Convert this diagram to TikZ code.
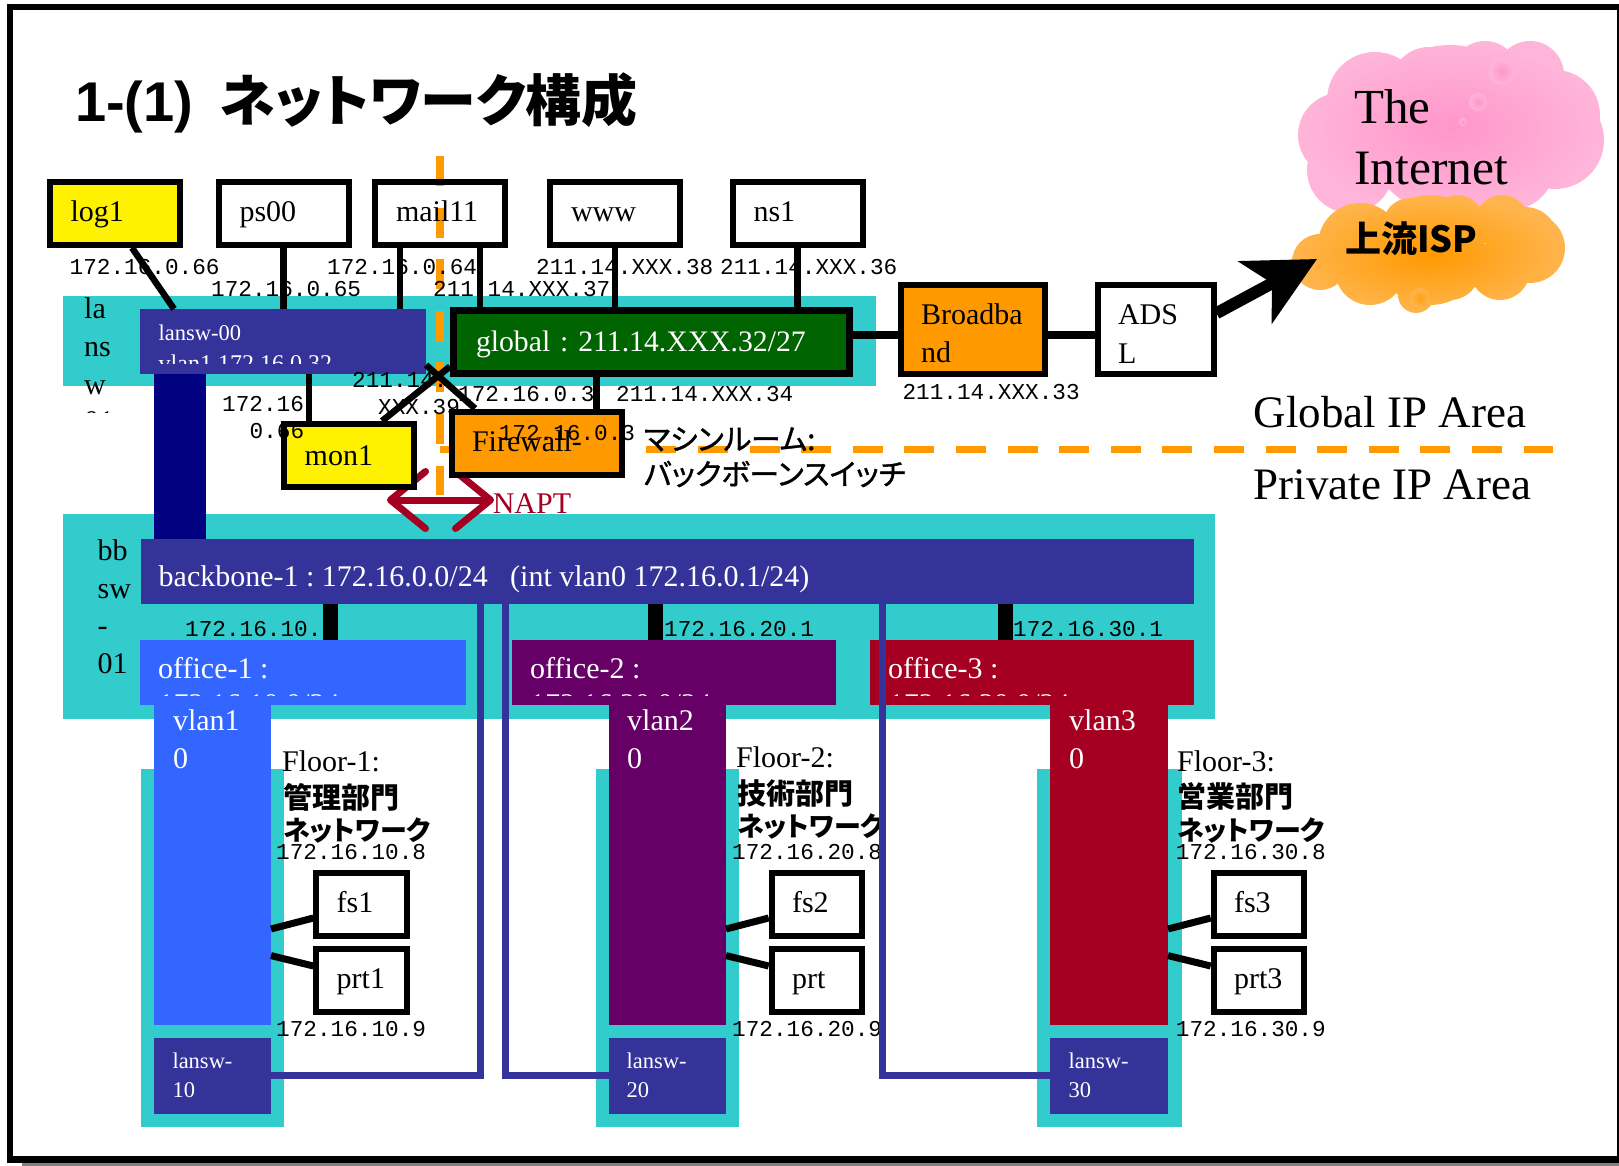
\documentclass[tikz,border=0pt]{standalone}
\usepackage{fontspec}
\setmainfont{Liberation Serif}
\setmonofont{Liberation Mono}
\setsansfont{Liberation Sans}
\newfontfamily\jpfont[RawFeature=+palt, FakeBold=1.2]{Noto Sans CJK JP}
\newfontfamily\jpheavy[RawFeature=+palt]{Noto Sans CJK JP}
\frenchspacing
\usetikzlibrary{arrows.meta}
\definecolor{bandteal}{HTML}{33CCCC}
\definecolor{swblue}{HTML}{333399}
\definecolor{navyblue}{HTML}{000080}
\definecolor{globalgreen}{HTML}{006400}
\definecolor{fwdorange}{HTML}{FF9900}
\definecolor{officeblue}{HTML}{3366FF}
\definecolor{officepurple}{HTML}{660066}
\definecolor{officered}{HTML}{A50021}
\definecolor{pinksoft}{HTML}{FFB5DA}
\definecolor{pinkdeep}{HTML}{FF96CA}
\definecolor{orangesoft}{HTML}{FFB54D}
\newcommand{\kana}[1]{{\fontsize{27}{32}\selectfont #1}}
\tikzset{%
	panel/.style    = {inner sep = 0pt, outer sep = 0pt}, % Filled area
	box/.style      = {draw, line width = 6, align = left, inner xsep = 21, inner ysep = 0pt, text width = 88, minimum height = 63, text height = 23, text depth = 6.5, font = \fontsize{30}{38.7}\selectfont},
	smallbox/.style = {box, inner xsep = 20.3, text width = 50},
	txt/.style      = {inner sep = 0pt, anchor = base west, font = \fontsize{30}{38.7}\selectfont},
	smalltxt/.style = {txt, font = \fontsize{22.5}{28}\selectfont},
	bigtxt/.style   = {txt, font = \fontsize{45}{50}\selectfont},
	addr/.style     = {inner sep = 0pt, anchor = base west, font = \ttfamily\fontsize{22.7}{24}\selectfont},
	jptxt/.style    = {inner sep = 0pt, anchor = base west, font = \jpfont\fontsize{29.5}{32}\selectfont},
	jpbold/.style   = {jptxt, font = \jpheavy\bfseries\fontsize{29}{32}\selectfont},
	wire/.style     = {line width = 6.5},
	heavy/.style    = {line width = 7.5},
	uplink/.style   = {draw = swblue, line width = 7},
	boundary/.style = {draw = fwdorange, line width = 7.5, dash pattern = on 30pt off 21.6pt}
}
\begin{document}
\begin{tikzpicture}[x = 1pt, y = -1pt]
	\useasboundingbox (0,0) rectangle (1619,1166);
	\fill[gray] (22,1160) rectangle (1619,1166);
	\draw[line width = 6.5] (10,7) rectangle (1620,1159.5);

	% Clouds
	\path[shade, inner color = pinkdeep, outer color = pinksoft]
		(1375,100) circle [radius = 48] (1429,85) circle [radius = 38]
		(1485,75) circle [radius = 34] (1530,75) circle [radius = 34]
		(1555,115) circle [radius = 45] (1555,140) circle [radius = 49]
		(1340,135) circle [radius = 42] (1350,170) circle [radius = 43]
		(1450,130) circle [radius = 85] (1510,165) circle [radius = 45];
	\shade[inner color = pinkdeep, outer color = pinksoft] (1502,72) circle [radius = 13];
	\shade[inner color = pinkdeep, outer color = pinksoft] (1478,102) circle [radius = 9];
	\shade[inner color = pinkdeep, outer color = pinksoft] (1463,122) circle [radius = 4];
	\path[shade, inner color = fwdorange, outer color = orangesoft]
		(1360,245) circle [radius = 42] (1410,225) circle [radius = 27]
		(1457,222) circle [radius = 27] (1502,222) circle [radius = 27]
		(1525,240) circle [radius = 33] (1530,248) circle [radius = 35]
		(1500,270) circle [radius = 30] (1450,270) circle [radius = 30]
		(1416,295) circle [radius = 18] (1370,270) circle [radius = 35]
		(1320,262) circle [radius = 28] (1430,250) circle [radius = 55];
	\shade[inner color = fwdorange!70!orangesoft, outer color = orangesoft] (1420,298) circle [radius = 10];

	\draw % Drawing the filled areas
	node at (469.5,341) [panel, fill = bandteal, minimum width = 813, minimum height = 90] (lanband) {}
	node at (639,616.5) [panel, fill = bandteal, minimum width = 1152, minimum height = 205] (bbband) {}
	node at (212.5,948) [panel, fill = bandteal, minimum width = 143, minimum height = 358] (floorone) {}
	node at (667.5,948) [panel, fill = bandteal, minimum width = 143, minimum height = 358] (floortwo) {}
	node at (1109.5,948) [panel, fill = bandteal, minimum width = 145, minimum height = 358] (floorthree) {}
	node at (180,456.5) [panel, fill = navyblue, minimum width = 52, minimum height = 165] (trunk) {}
	node at (283,341.5) [panel, fill = swblue, minimum width = 286, minimum height = 65] (lansw00) {}
	node at (667.5,571.5) [panel, fill = swblue, text = white, minimum width = 1053, minimum height = 65] (backbone) {}
	node at (303,672.5) [panel, fill = officeblue, minimum width = 326, minimum height = 65] (office1) {}
	node at (674,672.5) [panel, fill = officepurple, minimum width = 324, minimum height = 65] (office2) {}
	node at (1032,672.5) [panel, fill = officered, minimum width = 324, minimum height = 65] (office3) {}
	node at (212.5,865) [panel, fill = officeblue, minimum width = 117, minimum height = 320] (vlan1) {}
	node at (667.5,865) [panel, fill = officepurple, minimum width = 117, minimum height = 320] (vlan2) {}
	node at (1109,865) [panel, fill = officered, minimum width = 118, minimum height = 320] (vlan3) {}
	node at (212.5,1076) [panel, fill = swblue, minimum width = 117, minimum height = 76] (lansw10) {}
	node at (667.5,1076) [panel, fill = swblue, minimum width = 117, minimum height = 76] (lansw20) {}
	node at (1109,1076) [panel, fill = swblue, minimum width = 118, minimum height = 76] (lansw30) {}
	;

	% Global / private boundary
	\coordinate (areatop) at (440,156);
	\coordinate (areabottom) at (440,494.5);
	\coordinate (arealeft) at (440,449.5);
	\coordinate (arearight) at (1553,449.5);
	\draw[boundary] (areatop) -- (areabottom);
	\draw[boundary] (arealeft) -- (arearight);

	\draw % Drawing the addresses that the wires run across
	node at (69.5,275) [addr] (iplog) {172.16.0.66}
	node at (211,297) [addr] (ipps) {172.16.0.65}
	node at (327,275) [addr] (ipmail) {172.16.0.64}
	node at (433,297) [addr] (ipmailg) {211.14.XXX.37}
	node at (536,275) [addr] (ipwww) {211.14.XXX.38}
	node at (720,275) [addr] (ipns) {211.14.XXX.36}
	node at (352,387) [addr] (ipfwa) {211.14.}
	node at (378,414) [addr] (ipfwb) {XXX.39}
	node at (458,401) [addr] (ipfwc) {172.16.0.3}
	node at (616,401.5) [addr] (ipfwd) {211.14.XXX.34}
	node at (902.4,399) [addr] (ipbb) {211.14.XXX.33}
	node at (185,636.5) [addr] (ipo1) {172.16.10.1}
	node at (664,636.5) [addr] (ipo2) {172.16.20.1}
	node at (1013,636.5) [addr] (ipo3) {172.16.30.1}
	node at (276,859.5) [addr] (ipfs1) {172.16.10.8}
	node at (276,1036.5) [addr] (ipprt1) {172.16.10.9}
	node at (732,859.5) [addr] (ipfs2) {172.16.20.8}
	node at (732,1036.5) [addr] (ipprt2) {172.16.20.9}
	node at (1175.7,859.5) [addr] (ipfs3) {172.16.30.8}
	node at (1175.7,1036.5) [addr] (ipprt3) {172.16.30.9}
	;

	% NAPT arrow
	\coordinate (naptleft) at (387,500);
	\coordinate (naptright) at (494,500);
	\draw[officered, line width = 7, {Straight Barb[length = 35pt, width = 57pt, round]}-{Straight Barb[length = 35pt, width = 57pt, round]}] (naptleft) -- (naptright);

	\draw % Drawing the hosts
	node at (114.6,213.3) [box, fill = yellow] (log1) {log1}
	node at (283.5,213.3) [box] (ps00) {ps00}
	node at (440,213.3) [box] (mail11) {mail11}
	node at (615,213.3) [box] (www) {www}
	node at (797.5,213.3) [box] (ns1) {ns1}
	node at (348.7,455.5) [box, fill = yellow, text height = 23, text depth = 4] (mon1) {mon1}
	node at (537,443) [box, fill = fwdorange, inner xsep = 20, text width = 130, text height = 25, text depth = 7.5] (firewall) {Firewall-}
	node at (651.5,341.5) [box, fill = globalgreen, text = white, line width = 7, inner xsep = 22.5, text width = 351, text height = 24, text depth = 5, font = \fontsize{29.7}{38.7}\selectfont] (global) {global : 211.14.XXX.32/27}
	node at (973,329.2) [box, fill = fwdorange, inner xsep = 20, text width = 104, minimum height = 89, text height = {}, text depth = {}] (broadband) {\rule{0pt}{29pt}Broadba\\nd}
	node at (1155.5,329.2) [box, inner xsep = 20.5, text width = 75, minimum height = 89, text height = {}, text depth = {}] (adsl) {\rule{0pt}{29pt}ADS\\L}
	node at (361.7,904.5) [smallbox] (fs1) {fs1}
	node at (361.7,980) [smallbox] (prt1) {prt1}
	node at (817,904.5) [smallbox] (fs2) {fs2}
	node at (817,980) [smallbox] (prt2) {prt}
	node at (1259,904.5) [smallbox] (fs3) {fs3}
	node at (1259,980) [smallbox] (prt3) {prt3}
	;

	% Drawing the wires
	\draw[wire] ([xshift = 17.4]log1.south) -- ([xshift = 34]lansw00.north west);
	\draw[wire] (ps00.south) -- (ps00.south |- lansw00.north);
	\draw[wire] ([xshift = -40]mail11.south) -- ([xshift = -40]mail11.south |- lansw00.north);
	\draw[wire] ([xshift = 40]mail11.south) -- ([xshift = 40]mail11.south |- global.north);
	\draw[wire] (www.south) -- (www.south |- global.north);
	\draw[wire] (ns1.south) -- (ns1.south |- global.north);
	\draw[wire] ([xshift = -39.7]mon1.north) -- ([xshift = -39.7]mon1.north |- lansw00.south);
	\draw[wire] ([yshift = 9]lansw00.south east) -- ([xshift = 26]firewall.north west);
	\draw[wire] ([yshift = 10]global.south west) -- ([xshift = 33.3]mon1.north);
	\draw[wire] ([xshift = 59.6]firewall.north) -- ([xshift = 59.6]firewall.north |- global.south);
	\draw[heavy] ([yshift = 6.5]global.east) -- ([yshift = 6.5]global.east -| broadband.west);
	\draw[heavy] ([yshift = -6]broadband.east) -- ([yshift = -6]adsl.west);
	\draw[line width = 15] ([xshift = -5]ipo1.east |- backbone.south) -- ([xshift = -5]ipo1.east |- office1.north);
	\draw[line width = 15] ([xshift = -9]ipo2.west |- backbone.south) -- ([xshift = -9]ipo2.west |- office2.north);
	\draw[line width = 15] ([xshift = -7.5]ipo3.west |- backbone.south) -- ([xshift = -7.5]ipo3.west |- office3.north);
	\draw[line width = 7] ([yshift = -64]vlan1.east) -- ([yshift = -13.5]fs1.west);
	\draw[line width = 7] ([yshift = -90.6]vlan1.east) -- ([yshift = 14]prt1.west);
	\draw[line width = 7] ([yshift = -64]vlan2.east) -- ([yshift = -13.5]fs2.west);
	\draw[line width = 7] ([yshift = -90.6]vlan2.east) -- ([yshift = 14]prt2.west);
	\draw[line width = 7] ([yshift = -64]vlan3.east) -- ([yshift = -13.5]fs3.west);
	\draw[line width = 7] ([yshift = -90.6]vlan3.east) -- ([yshift = 14]prt3.west);

	% Internet uplink
	\coordinate (isptip) at (1317,259);
	\draw[line width = 12, -{Stealth[length = 70pt, width = 70pt, inset = 19pt]}] ([yshift = 16]adsl.east) -- (isptip);

	\draw % Drawing the texts
	node at (75,122) [inner sep = 0pt, anchor = base west, font = \jpheavy\bfseries\fontsize{56}{60}\selectfont] (heading) {{\sffamily\bfseries 1-(1)}\hspace{26pt}ネットワーク構成}
	node at (1354,124) [txt, font = \fontsize{49}{50}\selectfont] (inetone) {The}
	node at (1354,185) [txt, font = \fontsize{49.5}{50}\selectfont] (inettwo) {Internet}
	node at (1345,253) [jpbold, font = \jpheavy\bfseries\fontsize{36}{40}\selectfont] (isp) {上流ISP}
	node at (1253.7,427) [bigtxt] (globalarea) {Global IP Area}
	node at (1253.7,499) [bigtxt] (privatearea) {Private IP Area}
	node at (643.6,450) [jptxt] (roomone) {マシンルーム:}
	node at (643.6,485) [jptxt] (roomtwo) {バックボーンスイッチ}
	node at (492.6,513) [txt, text = officered] (napt) {NAPT}
	node at (222,411.5) [addr] (ipmona) {172.16}
	node at (249.5,438.5) [addr] (ipmonb) {0.66}
	node at (498.6,440.5) [addr] (ipfwe) {172.16.0.3}
	node at (84,318.7) [txt] (lanone) {la}
	node at (84,356.5) [txt] (lantwo) {ns}
	node at (84,394) [txt] (lanthree) {w}
	node at (97.5,560) [txt] (bbone) {bb}
	node at (97.5,598) [txt] (bbtwo) {sw}
	node at (97.5,635) [txt] (bbthree) {-}
	node at (97.5,673) [txt] (bbfour) {01}
	node at (158.5,340) [smalltxt, text = white] (lanswname) {lansw-00}
	node at (158.5,586) [txt, text = white] (bbname) {backbone-1 : 172.16.0.0/24}
	node at (510,586) [txt, text = white] (bbvlan) {(int vlan0 172.16.0.1/24)}
	node at (158,678) [txt, text = white] (o1name) {office-1 :}
	node at (530,678) [txt, text = white] (o2name) {office-2 :}
	node at (888,678) [txt, text = white] (o3name) {office-3 :}
	node at (172.8,730) [txt, text = white] (v1a) {vlan1}
	node at (172.8,768) [txt, text = white] (v1b) {0}
	node at (627,730) [txt, text = white] (v2a) {vlan2}
	node at (627,768) [txt, text = white] (v2b) {0}
	node at (1069,730) [txt, text = white] (v3a) {vlan3}
	node at (1069,768) [txt, text = white] (v3b) {0}
	node at (172.3,1068.6) [smalltxt, text = white] (l1a) {lansw-}
	node at (172.3,1097) [smalltxt, text = white] (l1b) {10}
	node at (626.5,1068.6) [smalltxt, text = white] (l2a) {lansw-}
	node at (626.5,1097) [smalltxt, text = white] (l2b) {20}
	node at (1068.5,1068.6) [smalltxt, text = white] (l3a) {lansw-}
	node at (1068.5,1097) [smalltxt, text = white] (l3b) {30}
	node at (282,771) [txt] (f1a) {Floor-1:}
	node at (283,808) [jpbold] (f1b) {管理部門}
	node at (283,840.5) [jpbold] (f1c) {\kana{ネットワーク}}
	node at (736,767) [txt] (f2a) {Floor-2:}
	node at (737,804) [jpbold] (f2b) {技術部門}
	node at (737,836.5) [jpbold] (f2c) {\kana{ネットワーク}}
	node at (1177,771) [txt] (f3a) {Floor-3:}
	node at (1177,807.6) [jpbold] (f3b) {営業部門}
	node at (1177,840) [jpbold] (f3c) {\kana{ネットワーク}}
	;

	% Lines of text cut off by their areas
	\begin{scope}
		\clip (63,386) rectangle (140,412.5);
		\node at (84,431) [txt] (lanfour) {01};
	\end{scope}
	\begin{scope}
		\clip (140,309) rectangle (426,363.3);
		\node at (158.5,371) [smalltxt, text = white, font = \fontsize{24}{28}\selectfont] (lanswip) {vlan1 172.16.0.32};
	\end{scope}
	\begin{scope}
		\clip (140,640) rectangle (466,695.7);
		\node at (158.5,714.5) [txt, text = white] (o1net) {172.16.10.0/24};
	\end{scope}
	\begin{scope}
		\clip (512,640) rectangle (836,695.7);
		\node at (530,714.5) [txt, text = white] (o2net) {172.16.20.0/24};
	\end{scope}
	\begin{scope}
		\clip (870,640) rectangle (1194,695.7);
		\node at (888.6,714.5) [txt, text = white] (o3net) {172.16.30.0/24};
	\end{scope}

	% Uplinks from the floor switches
	\coordinate (turn1) at (480,1075);
	\coordinate (turn2) at (505.5,1075);
	\coordinate (turn3) at (882,1075);
	\draw[uplink] (lansw10.east |- turn1) -- (turn1) -- (turn1 |- backbone.south);
	\draw[uplink] (lansw20.west |- turn2) -- (turn2) -- (turn2 |- backbone.south);
	\draw[uplink] (lansw30.west |- turn3) -- (turn3) -- (turn3 |- backbone.south);
\end{tikzpicture}
\end{document}
